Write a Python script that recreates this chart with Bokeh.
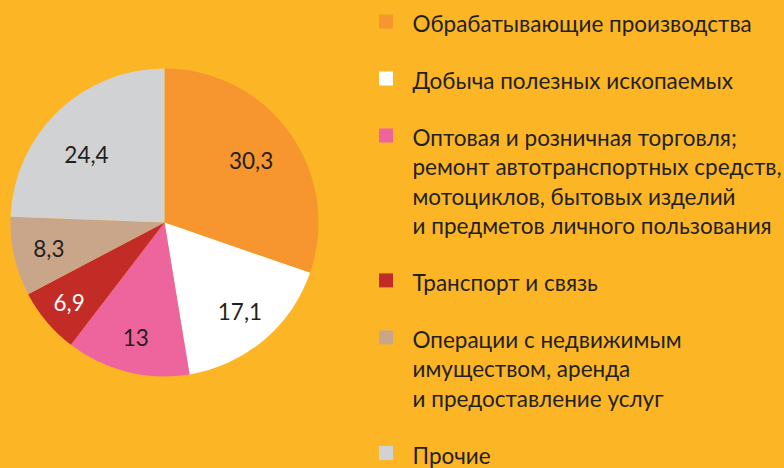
import math
from bokeh.plotting import figure
from bokeh.models import Range1d, GlobalInlineStyleSheet
from bokeh.core.properties import value
from bokeh.embed import file_html
from bokeh.resources import INLINE

# ---- data ----
categories = [
    "Обрабатывающие производства",
    "Добыча полезных ископаемых",
    "Оптовая и розничная торговля;\nремонт автотранспортных средств,\nмотоциклов, бытовых изделий\nи предметов личного пользования",
    "Транспорт и связь",
    "Операции с недвижимым\nимуществом, аренда\nи предоставление услуг",
    "Прочие",
]
shares = [30.3, 17.1, 13.0, 6.9, 8.3, 24.4]
share_labels = ["30,3", "17,1", "13", "6,9", "8,3", "24,4"]

# ---- style ----
BG = "#FCB625"
TEXT = "#231F20"
slice_colors = ["#F7962F", "#FFFFFF", "#EE649D", "#C32B26", "#C9A68A", "#D1D2D4"]
label_colors = [TEXT, TEXT, TEXT, "#FFFFFF", TEXT, TEXT]
label_radius = [0.69, 0.76, 0.77, 0.81, 0.77, 0.674]
label_angle_shift = [0, 0, 0, 0, 0, -4.8]  # degrees, clockwise positive
FONT = "Lato"

W, H = 784, 468

def yd(ypix):
    return H - ypix

p = figure(width=W, height=H, output_backend="svg", toolbar_location=None,
           x_range=Range1d(0, W), y_range=Range1d(0, H),
           min_border=0, outline_line_color=None,
           background_fill_color=BG, border_fill_color=BG)
p.axis.visible = False
p.grid.visible = False
p.stylesheets = [GlobalInlineStyleSheet(
    css="html, body { margin: 0; padding: 0; background-color: %s; overflow: hidden; }" % BG)]

# ---- pie ----
cx, cy, R = 164, yd(222), 154
total = sum(shares)
starts, ends, lx, ly = [], [], [], []
cum = 0.0
for i, s in enumerate(shares):
    a0 = math.pi / 2 - 2 * math.pi * cum / total
    a1 = math.pi / 2 - 2 * math.pi * (cum + s) / total
    mid = math.pi / 2 - 2 * math.pi * (cum + s / 2) / total - math.radians(label_angle_shift[i])
    starts.append(a0)
    ends.append(a1)
    lx.append(cx + label_radius[i] * R * math.cos(mid))
    ly.append(cy + label_radius[i] * R * math.sin(mid))
    cum += s

p.wedge(x=cx, y=cy, radius=R, start_angle=starts, end_angle=ends,
        direction="clock", fill_color=slice_colors, line_color=None)
p.text(x=lx, y=ly, text=share_labels, text_color=label_colors,
       text_font=value(FONT), text_font_size="22.5px",
       text_align="center", text_baseline="middle")

# ---- legend ----
line_step = 29.3
item_gap = 57
first_y = 23
sq_x, sq_size = 385.5, 14
txt_x = 412

y = first_y
sq_xs, sq_ys, t_xs, t_ys, t_txt = [], [], [], [], []
for cat in categories:
    lines = cat.split("\n")
    sq_xs.append(sq_x)
    sq_ys.append(yd(y - 2))
    for j, ln in enumerate(lines):
        t_xs.append(txt_x)
        t_ys.append(yd(y + j * line_step))
        t_txt.append(ln)
    y += (len(lines) - 1) * line_step + item_gap

p.rect(x=sq_xs, y=sq_ys, width=sq_size, height=sq_size,
       fill_color=slice_colors, line_color=None)
p.text(x=t_xs, y=t_ys, text=t_txt, text_color=TEXT,
       text_font=value(FONT), text_font_size="22.5px",
       text_align="left", text_baseline="middle")

open("out.html", "w").write(file_html(p, INLINE))
